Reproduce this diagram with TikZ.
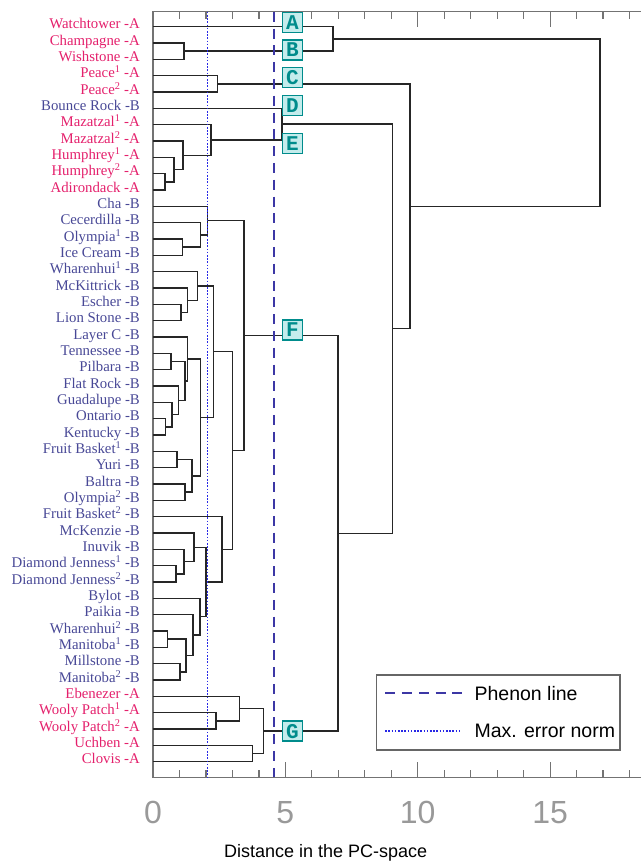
\documentclass[tikz,border=0pt]{standalone}
\usepackage{fontspec}
\setmainfont{Liberation Serif}
\setsansfont{Liberation Sans}
\setmonofont{Liberation Mono}
\definecolor{sampA}{RGB}{228,32,108}
\definecolor{sampB}{RGB}{72,72,150}
\definecolor{clustline}{RGB}{0,140,140}
\definecolor{clustfill}{RGB}{196,236,236}
\definecolor{phenblue}{RGB}{60,55,165}
\definecolor{errblue}{RGB}{40,40,230}
\newcommand{\sx}[1]{\textsuperscript{#1}}

\begin{document}
\begin{tikzpicture}[x=26.47pt,y=-16.33pt,
  every node/.style={inner sep=0pt},
  leaf/.style={anchor=mid east,font=\fontsize{14.8}{16}\selectfont},
  grpA/.style={text=sampA},
  grpB/.style={text=sampB},
  branch/.style={line width=1.5pt,black!85},
  phenon/.style={phenblue,line width=2.2pt,dash pattern=on 10pt off 6.8pt},
  maxerr/.style={errblue,line width=1.2pt,dash pattern=on 1.6pt off 1.6pt},
  clust/.style={draw=clustline,fill=clustfill,line width=1.3pt,minimum size=20pt,text=clustline,font=\ttfamily\bfseries\fontsize{21}{21}\selectfont},
  axisline/.style={black!55,line width=1.2pt},
  ticklab/.style={text=black!40,font=\sffamily\fontsize{32}{32}\selectfont}]
  \useasboundingbox (-5.78,-1.635) rectangle (18.40,51.33);

  \draw[axisline] (18.5,-0.918) -- (0,-0.918) -- (0,45.95) -- (18.5,45.95);
  \foreach \k in {1,...,18} {
    \pgfmathsetmacro{\tl}{ifthenelse(mod(\k,5)==0,0.92,0.43)}
    \draw[axisline] (\k,45.95) -- ++(0,-\tl) (\k,-0.918) -- ++(0,\tl);
  }
  \foreach \k in {0,5,10,15}
    \node[ticklab] (tk\k) at (\k,48.1) {\k};
  \node[font=\sffamily\fontsize{18}{20}\selectfont] (xlab) at (6.52,50.6) {Distance in the PC-space};

  \foreach \i/\txt/\grp in {0/Watchtower/A, 1/Champagne/A, 2/Wishstone/A, 3/Peace\sx{1}/A, 4/Peace\sx{2}/A,
      5/Bounce Rock/B, 6/Mazatzal\sx{1}/A, 7/Mazatzal\sx{2}/A, 8/Humphrey\sx{1}/A, 9/Humphrey\sx{2}/A,
      10/Adirondack/A, 11/Cha/B, 12/Cecerdilla/B, 13/Olympia\sx{1}/B, 14/Ice Cream/B,
      15/Wharenhui\sx{1}/B, 16/McKittrick/B, 17/Escher/B, 18/Lion Stone/B, 19/Layer C/B,
      20/Tennessee/B, 21/Pilbara/B, 22/Flat Rock/B, 23/Guadalupe/B, 24/Ontario/B,
      25/Kentucky/B, 26/Fruit Basket\sx{1}/B, 27/Yuri/B, 28/Baltra/B, 29/Olympia\sx{2}/B,
      30/Fruit Basket\sx{2}/B, 31/McKenzie/B, 32/Inuvik/B, 33/Diamond Jenness\sx{1}/B, 34/Diamond Jenness\sx{2}/B,
      35/Bylot/B, 36/Paikia/B, 37/Wharenhui\sx{2}/B, 38/Manitoba\sx{1}/B, 39/Millstone/B,
      40/Manitoba\sx{2}/B, 41/Ebenezer/A, 42/Wooly Patch\sx{1}/A, 43/Wooly Patch\sx{2}/A, 44/Uchben/A,
      45/Clovis/A} {
    \coordinate (l\i) at (0,\i);
    \node[leaf,grp\grp] (lab\i) at (-0.49,\i) {\txt\ -\grp};
  }

  \coordinate (cw) at (1.18,1.5);
  \coordinate (ab) at (6.79,0.75);
  \coordinate (pe) at (2.43,3.5);
  \coordinate (ha) at (0.45,9.5);
  \coordinate (hu) at (0.79,8.75);
  \coordinate (mz) at (1.13,7.875);
  \coordinate (ee) at (2.19,6.938);
  \coordinate (dd) at (4.88,5.969);
  \coordinate (oi) at (1.11,13.5);
  \coordinate (ce) at (1.80,12.75);
  \coordinate (ch) at (2.05,11.875);
  \coordinate (el) at (1.05,17.5);
  \coordinate (mk) at (1.31,16.75);
  \coordinate (wh) at (1.69,15.875);
  \coordinate (tp) at (0.68,20.5);
  \coordinate (ok) at (0.48,24.5);
  \coordinate (gu) at (0.71,23.75);
  \coordinate (fr) at (0.96,22.875);
  \coordinate (tn) at (1.21,21.688);
  \coordinate (lc) at (1.30,20.344);
  \coordinate (fy) at (0.90,26.5);
  \coordinate (bo) at (1.21,28.5);
  \coordinate (fb) at (1.48,27.5);
  \coordinate (lf) at (1.79,23.922);
  \coordinate (ga) at (2.28,19.898);
  \coordinate (dj) at (0.86,33.5);
  \coordinate (iv) at (1.18,32.75);
  \coordinate (mc) at (1.54,31.875);
  \coordinate (wm) at (0.54,37.5);
  \coordinate (mm) at (1.02,39.5);
  \coordinate (w2) at (1.24,38.5);
  \coordinate (pk) at (1.52,37.25);
  \coordinate (by) at (1.78,36.125);
  \coordinate (mb) at (2.00,34);
  \coordinate (gb) at (2.60,32);
  \coordinate (g2) at (3.00,25.949);
  \coordinate (ff) at (3.44,18.912);
  \coordinate (wp) at (2.38,42.5);
  \coordinate (eb) at (3.26,41.75);
  \coordinate (uc) at (3.76,44.5);
  \coordinate (gg) at (4.17,43.125);
  \coordinate (bg) at (6.98,31.018);
  \coordinate (de) at (9.04,18.494);
  \coordinate (cr) at (9.71,10.997);
  \coordinate (rt) at (16.89,5.873);

  \draw[branch] (l1) -| (cw) |- (l2);
  \draw[branch] (l0) -| (ab) |- (cw);
  \draw[branch] (l3) -| (pe) |- (l4);
  \draw[branch] (l9) -| (ha) |- (l10);
  \draw[branch] (l8) -| (hu) |- (ha);
  \draw[branch] (l7) -| (mz) |- (hu);
  \draw[branch] (l6) -| (ee) |- (mz);
  \draw[branch] (l5) -| (dd) |- (ee);
  \draw[branch] (l13) -| (oi) |- (l14);
  \draw[branch] (l12) -| (ce) |- (oi);
  \draw[branch] (l11) -| (ch) |- (ce);
  \draw[branch] (l17) -| (el) |- (l18);
  \draw[branch] (l16) -| (mk) |- (el);
  \draw[branch] (l15) -| (wh) |- (mk);
  \draw[branch] (l20) -| (tp) |- (l21);
  \draw[branch] (l24) -| (ok) |- (l25);
  \draw[branch] (l23) -| (gu) |- (ok);
  \draw[branch] (l22) -| (fr) |- (gu);
  \draw[branch] (tp) -| (tn) |- (fr);
  \draw[branch] (l19) -| (lc) |- (tn);
  \draw[branch] (l26) -| (fy) |- (l27);
  \draw[branch] (l28) -| (bo) |- (l29);
  \draw[branch] (fy) -| (fb) |- (bo);
  \draw[branch] (lc) -| (lf) |- (fb);
  \draw[branch] (wh) -| (ga) |- (lf);
  \draw[branch] (l33) -| (dj) |- (l34);
  \draw[branch] (l32) -| (iv) |- (dj);
  \draw[branch] (l31) -| (mc) |- (iv);
  \draw[branch] (l37) -| (wm) |- (l38);
  \draw[branch] (l39) -| (mm) |- (l40);
  \draw[branch] (wm) -| (w2) |- (mm);
  \draw[branch] (l36) -| (pk) |- (w2);
  \draw[branch] (l35) -| (by) |- (pk);
  \draw[branch] (mc) -| (mb) |- (by);
  \draw[branch] (l30) -| (gb) |- (mb);
  \draw[branch] (ga) -| (g2) |- (gb);
  \draw[branch] (ch) -| (ff) |- (g2);
  \draw[branch] (l42) -| (wp) |- (l43);
  \draw[branch] (l41) -| (eb) |- (wp);
  \draw[branch] (l44) -| (uc) |- (l45);
  \draw[branch] (eb) -| (gg) |- (uc);
  \draw[branch] (ff) -| (bg) |- (gg);
  \draw[branch] (dd) -| (de) |- (bg);
  \draw[branch] (pe) -| (cr) |- (de);
  \draw[branch] (ab) -| (rt) |- (cr);

  \coordinate (errtop) at (2.07,-0.918);
  \coordinate (errbot) at (2.07,45.95);
  \coordinate (phtop) at (4.57,-0.918);
  \coordinate (phbot) at (4.57,45.95);
  \draw[maxerr] (errtop) -- (errbot);
  \draw[phenon] (phtop) -- (phbot);

  \node[clust] (cA) at (5.27,-0.27) {A};
  \node[clust] (cB) at (5.27,1.43) {B};
  \node[clust] (cC) at (5.27,3.12) {C};
  \node[clust] (cD) at (5.27,4.84) {D};
  \node[clust] (cE) at (5.27,7.14) {E};
  \node[clust] (cF) at (5.27,18.57) {F};
  \node[clust] (cG) at (5.27,43.13) {G};

  \draw[black!60,line width=1.2pt,fill=white] (8.45,39.70) rectangle (17.64,44.29);
  \node[anchor=west,font=\sffamily\fontsize{19.5}{20}\selectfont] (lgph) at (12.14,40.82) {Phenon line};
  \node[anchor=west,font=\sffamily\fontsize{19.5}{20}\selectfont] (lgerr) at (12.14,43.13) {Max. error norm};
  \draw[phenon] (8.77,40.82) -- (11.66,40.82);
  \draw[maxerr] (8.77,43.13) -- (11.66,43.13);
\end{tikzpicture}
\end{document}
